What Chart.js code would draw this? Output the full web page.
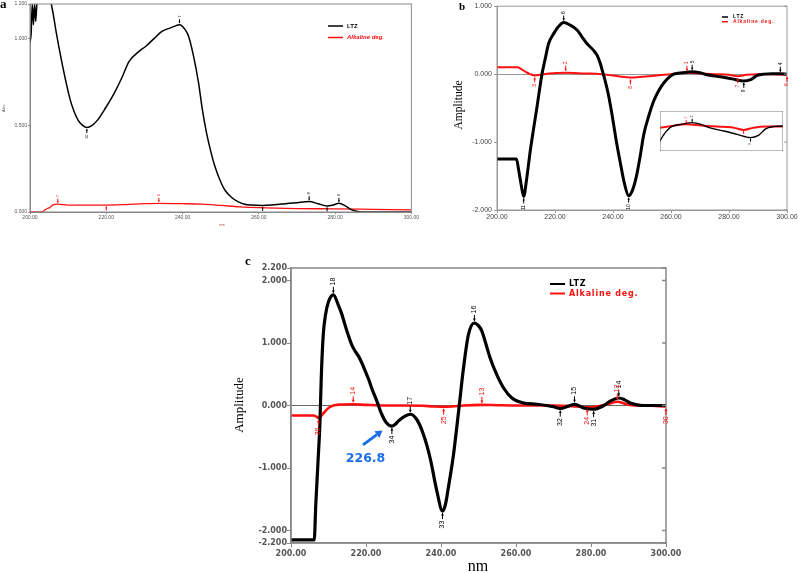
<!DOCTYPE html>
<html>
<head>
<meta charset="utf-8">
<script src="https://cdn.jsdelivr.net/npm/chart.js@4.4.1/dist/chart.umd.min.js"></script>
<style>
  html, body { margin: 0; padding: 0; background: #fff; }
  body { width: 798px; height: 573px; position: relative; overflow: hidden; }
  canvas { position: absolute; }
  #chartA { left: 0; top: 0; }
  #chartB { left: 420px; top: 0; }
  #inset { left: 660px; top: 111px; background: #fff; }
  #chartC { left: 210px; top: 240px; }
</style>
</head>
<body>
<canvas id="chartA" width="420" height="228"></canvas>
<canvas id="chartB" width="378" height="228"></canvas>
<canvas id="inset" width="123" height="40"></canvas>
<canvas id="chartC" width="500" height="333"></canvas>
<script>
// ---- tick labels ----
const xTicks = [200, 220, 240, 260, 280, 300];
const yTicksA = [0, 0.5, 1.0, 1.2];
const yTicksB = [-2, -1, 0, 1];
const yTicksC = [-2.2, -2, -1, 0, 1, 2, 2.2];

// ---- panel a: zero order spectra (Abs.) ----
const nmLtzA = [200, 200.3, 200.6, 200.9, 201.2, 201.5, 201.8, 202.3, 203.5, 205, 205.6, 206.05, 206.9, 208.2, 209.5, 210.8,
  212.6, 213.8, 214.9, 216.3, 217.7, 219.8, 222.1, 224, 226, 228.6, 230.3, 232.5, 234.6, 236.8, 238.3, 239.2, 240.7,
  241.6, 242.9, 244.2, 245.2, 246.3, 247.4, 248.5, 249.8, 251.1, 252.8, 254.5, 256.3, 258, 261, 264, 267, 270, 273.2,
  275.5, 277.9, 279.5, 281, 282.7, 284.4, 286, 287.5, 290, 295, 300];
const absLtzA = [0.98, 1.03, 1.2, 1.08, 1.2, 1.1, 1.2, 1.25, 1.4, 1.35, 1.2, 1.148, 1.033, 0.88, 0.744, 0.628,
  0.53, 0.5, 0.487, 0.5, 0.53, 0.6, 0.686, 0.77, 0.869, 0.927, 0.955, 1.0, 1.042, 1.062, 1.075, 1.081, 1.052,
  1.013, 0.898, 0.745, 0.59, 0.455, 0.35, 0.262, 0.185, 0.127, 0.085, 0.06, 0.045, 0.04, 0.038, 0.042, 0.048, 0.054, 0.06,
  0.048, 0.035, 0.04, 0.05, 0.035, 0.012, 0.003, 0, 0, 0, 0];
const nmAlkA = [200, 203, 203.8, 204.5, 205.2, 205.9, 207.3, 210, 215, 220, 225, 230, 233.8, 240, 245, 250, 255, 260, 270, 280, 290, 300];
const absAlkA = [0, 0, 0.01, 0.02, 0.025, 0.04, 0.045, 0.04, 0.04, 0.04, 0.043, 0.048, 0.05, 0.048, 0.045, 0.038, 0.03, 0.025, 0.02, 0.018, 0.015, 0.012];
const peaksLtzA = [[214.9, '10', 'min'], [239.2, '7', 'max'], [261, '', 'min'], [273.2, '8', 'max'], [277.9, '', 'min'], [281, '9', 'max']];
const peaksAlkA = [[207.3, '7', 'max'], [220, '', 'min'], [233.8, '6', 'max']];

// ---- panel b: derivative spectra ----
const nmLtzB = [200, 206.7, 207.5, 208.3, 209.2, 210.2, 211.5, 212.7, 213.8, 214.7, 215.5, 216.6, 217.8, 219.6, 221.2, 223,
  225.3, 227.6, 229.3, 231, 233.3, 234.5, 235.6, 236.4, 237.3, 238.4, 239.6, 241, 242.5, 244, 245.4, 246.8, 248.2, 249.4,
  250.6, 252.3, 254, 255.8, 257.5, 259.2, 261, 264, 267.3, 270, 272.5, 277, 281, 285.1, 287.5, 289.7, 292, 295, 297.7, 300];
const ampLtzB = [-1.25, -1.25, -1.42, -1.62, -1.8, -1.55, -1.12, -0.78, -0.48, -0.22, 0, 0.22, 0.45, 0.6, 0.7, 0.76,
  0.72, 0.65, 0.55, 0.45, 0.35, 0.28, 0.16, 0.04, -0.1, -0.3, -0.58, -0.95, -1.3, -1.62, -1.79, -1.7, -1.48, -1.2,
  -0.89, -0.62, -0.4, -0.24, -0.13, -0.05, 0, 0.02, 0.035, 0.02, -0.01, -0.04, -0.07, -0.1, -0.08, -0.02, 0, 0.005, 0.005, 0];
const nmAlkB = [200, 207, 208.5, 210, 211.5, 213, 215, 218, 223.7, 230, 236, 240, 243, 246, 250, 255, 260, 265.5, 270, 275, 280, 283, 286, 290, 295, 300];
const ampAlkB = [0.1, 0.1, 0.07, 0.03, 0, -0.02, -0.01, 0.01, 0.02, 0.01, 0, -0.02, -0.04, -0.05, -0.04, -0.02, 0, 0.02, 0.01, 0, -0.01, -0.03, -0.01, 0, 0, -0.01];
const peaksLtzB = [[209.2, '11', 'min'], [223, '6', 'max'], [245.4, '10', 'min'], [267.3, '5', 'max'], [285.1, '9', 'min'], [297.7, '4', 'max']];
const peaksAlkB = [[213, '3', 'min'], [223.7, '2', 'max'], [246, '8', 'min'], [265.5, '1', 'max'], [283, '7', 'min'], [300, '6', 'min']];

// ---- panel c: derivative spectra ----
const nmLtzC = [200, 206.2, 206.6, 207.2, 207.7, 208.1, 208.6, 209.2, 210, 211.3, 212.6, 213.5, 214.4, 215.3, 216.2, 217.1,
  218, 218.9, 219.8, 220.7, 221.5, 222.9, 224.2, 225.5, 226.9, 227.8, 228.6, 230.4, 231.8, 233.5, 235.3, 237.1, 238.9,
  240.4, 241.2, 242, 243.3, 244.7, 246, 247.3, 248.9, 250.1, 250.9, 252, 253.1, 254.9, 256.7, 258.9, 262, 265.6, 268.2,
  270, 271.8, 274, 275.6, 278, 280.7, 282, 283.4, 285.1, 287.4, 289, 290.5, 292, 294, 297, 300];
const ampLtzC = [-2.15, -2.15, -1.6, -0.9, -0.3, 0.5, 1.13, 1.45, 1.66, 1.77, 1.61, 1.47, 1.29, 1.12, 0.97, 0.87,
  0.79, 0.68, 0.55, 0.42, 0.28, 0.07, -0.14, -0.28, -0.33, -0.3, -0.25, -0.17, -0.14, -0.22, -0.46, -0.84, -1.37,
  -1.69, -1.58, -1.3, -0.8, -0.09, 0.6, 1.13, 1.32, 1.27, 1.19, 0.98, 0.76, 0.49, 0.28, 0.12, 0.04, 0.02, 0,
  -0.02, -0.05, -0.01, 0.02, -0.04, -0.06, -0.04, 0, 0.07, 0.12, 0.09, 0.04, 0.015, 0, 0, 0];
const nmAlkC = [200, 206, 206.8, 207.3, 208, 209, 210, 211.3, 213, 216.6, 220, 225, 230, 235, 238, 240.7, 243, 246, 250.9,
  255, 260, 270, 275, 277, 279, 281, 283, 285, 287, 289, 291, 295, 300];
const ampAlkC = [-0.16, -0.16, -0.18, -0.2, -0.17, -0.1, -0.04, 0, 0.015, 0.02, 0.01, 0, 0, -0.005, -0.015, -0.02, -0.015, 0, 0.01,
  0.005, 0, 0, -0.01, -0.02, -0.03, -0.02, 0, 0.03, 0.06, 0.03, 0.005, 0, -0.02];
const peaksLtzC = [[211.3, '18', 'max'], [226.9, '34', 'min'], [231.8, '17', 'max'], [240.4, '33', 'min'], [248.9, '16', 'max'],
  [271.8, '32', 'min'], [275.6, '15', 'max'], [280.7, '31', 'min'], [287.4, '14', 'max']];
const peaksAlkC = [[207.3, '36', 'min'], [216.6, '14', 'max'], [240.7, '25', 'min'], [250.9, '13', 'max'], [279, '24', 'min'], [287, '12', 'max'], [300, '30', 'min']];
const calloutNm = 226.8;
const calloutText = '226.8';

const RED = '#ff1010';

function pts(xs, ys) { return xs.map((x, i) => ({ x: x, y: ys[i] })); }

function valueAt(data, nm) {
  for (let i = 0; i < data.length - 1; i++) {
    if (nm >= data[i].x && nm <= data[i + 1].x) {
      const t = (nm - data[i].x) / (data[i + 1].x - data[i].x);
      return data[i].y + t * (data[i + 1].y - data[i].y);
    }
  }
  return data[data.length - 1].y;
}

// frame, peak markers, texts, legend, callout
const decor = {
  id: 'decor',
  afterDraw(chart, args, o) {
    const ctx = chart.ctx, a = chart.chartArea;
    const sx = chart.scales.x, sy = chart.scales.y;
    ctx.save();
    if (o.frame) {
      ctx.strokeStyle = o.frame;
      ctx.lineWidth = o.frameWidth || 1;
      ctx.strokeRect(a.left, a.top, a.right - a.left, a.bottom - a.top);
    }
    if (o.rightTicks) {
      ctx.beginPath();
      sy.ticks.forEach(t => {
        const py = sy.getPixelForValue(t.value);
        ctx.moveTo(a.right, py);
        ctx.lineTo(a.right - o.rightTicks, py);
      });
      ctx.stroke();
    }
    (o.markers || []).forEach(set => {
      const ds = chart.data.datasets[set.ds];
      const col = ds.borderColor;
      set.peaks.forEach(([nm, lab, kind]) => {
        if (nm < sx.min || nm > sx.max) return;
        const px = sx.getPixelForValue(nm);
        const py = sy.getPixelForValue(valueAt(ds.data, nm));
        const d = kind === 'max' ? -1 : 1;
        const y0 = py + d * o.gap, y1 = y0 + d * o.len;
        ctx.strokeStyle = col; ctx.fillStyle = col; ctx.lineWidth = o.markWidth || 1;
        ctx.beginPath(); ctx.moveTo(px, y0); ctx.lineTo(px, y1); ctx.stroke();
        ctx.beginPath();
        ctx.moveTo(px, y0);
        ctx.lineTo(px - o.head, y0 + d * o.head * 1.6);
        ctx.lineTo(px + o.head, y0 + d * o.head * 1.6);
        ctx.closePath(); ctx.fill();
        if (lab) {
          ctx.save();
          ctx.translate(px, y1 + d * 1.5);
          ctx.rotate(-Math.PI / 2);
          ctx.font = o.font;
          ctx.textBaseline = 'middle';
          ctx.textAlign = d < 0 ? 'left' : 'right';
          ctx.fillText(lab, 0, 0);
          ctx.restore();
        }
      });
    });
    (o.texts || []).forEach(t => {
      ctx.save();
      ctx.translate(t.x, t.y);
      if (t.rot) ctx.rotate(t.rot);
      ctx.font = t.font;
      ctx.fillStyle = t.color || '#000';
      ctx.textAlign = t.align || 'center';
      ctx.textBaseline = t.base || 'middle';
      ctx.fillText(t.text, 0, 0);
      ctx.restore();
    });
    if (o.legend) {
      const L = o.legend;
      chart.data.datasets.forEach((ds, i) => {
        const y = L.y + i * L.dy;
        ctx.strokeStyle = ds.borderColor; ctx.lineWidth = L.lineWidth;
        ctx.beginPath(); ctx.moveTo(L.x, y); ctx.lineTo(L.x + L.len, y); ctx.stroke();
        ctx.font = L.fonts[i];
        ctx.letterSpacing = L.spacing || '0px';
        ctx.fillStyle = ds.borderColor;
        ctx.textAlign = 'left'; ctx.textBaseline = 'middle';
        ctx.fillText(ds.label, L.x + L.len + L.gap, y);
      });
      ctx.letterSpacing = '0px';
    }
    if (o.callout) {
      const c = o.callout;
      const ds = chart.data.datasets[c.ds];
      const px = sx.getPixelForValue(c.nm), py = sy.getPixelForValue(valueAt(ds.data, c.nm));
      const tx = px + c.tip[0], ty = py + c.tip[1], bx = px + c.tail[0], by = py + c.tail[1];
      const ang = Math.atan2(ty - by, tx - bx);
      const hx = tx - c.head * Math.cos(ang), hy = ty - c.head * Math.sin(ang);
      ctx.strokeStyle = c.color; ctx.fillStyle = c.color; ctx.lineWidth = c.width;
      ctx.beginPath(); ctx.moveTo(bx, by); ctx.lineTo(hx, hy); ctx.stroke();
      const w = c.head * 0.6;
      ctx.beginPath();
      ctx.moveTo(tx, ty);
      ctx.lineTo(hx + w * Math.sin(ang), hy - w * Math.cos(ang));
      ctx.lineTo(hx - w * Math.sin(ang), hy + w * Math.cos(ang));
      ctx.closePath(); ctx.fill();
      ctx.font = c.font; ctx.textAlign = 'center'; ctx.textBaseline = 'middle';
      ctx.fillText(c.text, px + c.textAt[0], py + c.textAt[1]);
    }
    ctx.restore();
  }
};
Chart.register(decor);
Chart.defaults.font.family = 'Liberation Sans';

function axes(o) {
  return {
    x: {
      type: 'linear', min: o.xMin || 200, max: o.xMax || 300, display: o.display !== false,
      afterBuildTicks: s => { s.ticks = xTicks.map(v => ({ value: v })); },
      afterFit: s => { s.height = o.xh; },
      ticks: { autoSkip: false, maxRotation: 0, font: o.xFont, color: o.tickColor, padding: o.xPad, callback: v => v.toFixed(2) },
      grid: { drawOnChartArea: false, tickLength: o.tickLen, color: o.frame, lineWidth: 1 },
      border: { color: o.frame, width: o.frameWidth }
    },
    y: {
      type: 'linear', min: o.yMin, max: o.yMax, display: o.display !== false,
      afterBuildTicks: s => { s.ticks = o.yTicks.map(v => ({ value: v })); },
      afterFit: s => { s.width = o.yw; },
      ticks: { autoSkip: false, font: o.yFont, color: o.tickColor, padding: o.yPad, callback: v => v.toFixed(3) },
      grid: {
        drawOnChartArea: !!o.zero, tickLength: o.tickLen, tickColor: o.frame,
        color: c => (o.zero && c.tick && c.tick.value === 0) ? o.zero : 'rgba(0,0,0,0)'
      },
      border: { color: o.frame, width: o.frameWidth }
    }
  };
}

const common = {
  responsive: false, animation: false, devicePixelRatio: 1,
  elements: { point: { radius: 0 }, line: { cubicInterpolationMode: 'monotone', fill: false } },
  events: []
};

// ---------- panel a ----------
new Chart(document.getElementById('chartA'), {
  type: 'line',
  data: { datasets: [
    { label: 'LTZ', data: pts(nmLtzA, absLtzA), borderColor: '#000', borderWidth: 1.5 },
    { label: 'Alkaline deg.', data: pts(nmAlkA, absAlkA), borderColor: RED, borderWidth: 1.3 }
  ] },
  options: Object.assign({}, common, {
    layout: { padding: { top: 4, right: 5, left: 0, bottom: 0 } },
    scales: axes({ xh: 16, yw: 30, yMin: 0, yMax: 1.2, yTicks: yTicksA, tickLen: 2, xPad: 1, yPad: 1,
      xFont: { size: 5 }, yFont: { size: 5 }, tickColor: '#555', frame: '#888', frameWidth: 1 }),
    plugins: {
      legend: { display: false }, tooltip: { enabled: false },
      decor: {
        frame: '#888', frameWidth: 1, gap: 1.5, len: 4, head: 1, font: '4px Liberation Sans',
        markers: [{ ds: 0, peaks: peaksLtzA }, { ds: 1, peaks: peaksAlkA }],
        texts: [
          { text: 'a', x: 0, y: 8, font: 'bold 13px Liberation Serif', align: 'left', base: 'alphabetic' },
          { text: 'Abs.', x: 4, y: 108, rot: -Math.PI / 2, font: '4px Liberation Sans', color: '#555' },
          { text: 'nm', x: 222, y: 225, font: '4px Liberation Sans', color: '#b44' }
        ],
        legend: { x: 328, y: 26, dy: 11.5, len: 15, gap: 4, lineWidth: 1.5,
          fonts: ['bold 6px Liberation Sans', 'bold italic 6px Liberation Sans'] }
      }
    }
  })
});

// ---------- panel b ----------
const dsLtzB = pts(nmLtzB, ampLtzB);
const dsAlkB = pts(nmAlkB, ampAlkB);
new Chart(document.getElementById('chartB'), {
  type: 'line',
  data: { datasets: [
    { label: 'LTZ', data: dsLtzB, borderColor: '#000', borderWidth: 3 },
    { label: 'Alkaline deg.', data: dsAlkB, borderColor: RED, borderWidth: 2 }
  ] },
  options: Object.assign({}, common, {
    layout: { padding: { top: 6, right: 11, left: 0, bottom: 0 } },
    scales: axes({ xh: 18, yw: 77, yMin: -2, yMax: 1, yTicks: yTicksB, tickLen: 3, xPad: 0, yPad: 2,
      xFont: { size: 7 }, yFont: { size: 7 }, tickColor: '#444', frame: '#999', frameWidth: 1, zero: '#999' }),
    plugins: {
      legend: { display: false }, tooltip: { enabled: false },
      decor: {
        frame: '#999', frameWidth: 1, rightTicks: 3, gap: 2, len: 5, head: 1.3, font: '5px Liberation Sans',
        markers: [{ ds: 0, peaks: peaksLtzB }, { ds: 1, peaks: peaksAlkB }],
        texts: [
          { text: 'b', x: 39, y: 10, font: 'bold 11px Liberation Serif', align: 'left', base: 'alphabetic' },
          { text: 'Amplitude', x: 39, y: 105, rot: -Math.PI / 2, font: '11.5px Liberation Serif' }
        ],
        legend: { x: 302, y: 17, dy: 4.7, len: 6, gap: 5, lineWidth: 1.5, spacing: '0.8px',
          fonts: ['bold 5px Liberation Sans', 'bold 5px Liberation Sans'] }
      }
    }
  })
});

// ---------- inset of panel b (magnified 257-295 nm) ----------
new Chart(document.getElementById('inset'), {
  type: 'line',
  data: { datasets: [
    { label: 'LTZ', data: dsLtzB, borderColor: '#000', borderWidth: 1.4 },
    { label: 'Alkaline deg.', data: dsAlkB, borderColor: RED, borderWidth: 2 }
  ] },
  options: Object.assign({}, common, {
    layout: { padding: 0 },
    scales: axes({ display: false, xMin: 257.5, xMax: 295, yMin: -0.22, yMax: 0.14, yTicks: [], xh: 0, yw: 0, tickLen: 0 }),
    plugins: {
      legend: { display: false }, tooltip: { enabled: false },
      decor: {
        frame: '#777', frameWidth: 1, gap: 1, len: 3, head: 0.8, font: '3px Liberation Sans',
        markers: [{ ds: 0, peaks: peaksLtzB }, { ds: 1, peaks: peaksAlkB }]
      }
    }
  })
});

// ---------- panel c ----------
new Chart(document.getElementById('chartC'), {
  type: 'line',
  data: { datasets: [
    { label: 'LTZ', data: pts(nmLtzC, ampLtzC), borderColor: '#000', borderWidth: 3.2 },
    { label: 'Alkaline deg.', data: pts(nmAlkC, ampAlkC), borderColor: RED, borderWidth: 2.6 }
  ] },
  options: Object.assign({}, common, {
    layout: { padding: { top: 28, right: 44, left: 0, bottom: 0 } },
    scales: axes({ xh: 30, yw: 81, yMin: -2.2, yMax: 2.2, yTicks: yTicksC, tickLen: 4, xPad: 2, yPad: 0,
      xFont: { size: 8, weight: 'bold', family: 'DejaVu Sans' }, yFont: { size: 8, weight: 'bold', family: 'DejaVu Sans' },
      tickColor: '#555', frame: '#888', frameWidth: 1.5, zero: '#666' }),
    plugins: {
      legend: { display: false }, tooltip: { enabled: false },
      decor: {
        frame: '#888', frameWidth: 1.5, rightTicks: 4, gap: 2, len: 6, head: 1.5, font: '7px Liberation Sans',
        markers: [{ ds: 0, peaks: peaksLtzC }, { ds: 1, peaks: peaksAlkC }],
        texts: [
          { text: 'c', x: 35, y: 25, font: 'bold 13px Liberation Serif', align: 'left', base: 'alphabetic' },
          { text: 'Amplitude', x: 30, y: 165, rot: -Math.PI / 2, font: '13px Liberation Serif' },
          { text: 'nm', x: 268, y: 327, font: '16px Liberation Serif' }
        ],
        legend: { x: 340, y: 44, dy: 9.5, len: 15, gap: 4, lineWidth: 2, spacing: '0.8px',
          fonts: ['bold 8px DejaVu Sans', 'bold 8px DejaVu Sans'] },
        callout: { ds: 0, nm: calloutNm, text: calloutText, color: '#1a6fe6', width: 3, head: 7,
          tip: [-9, 4.5], tail: [-28.5, 19], textAt: [-26, 33], font: 'bold 12.5px DejaVu Sans' }
      }
    }
  })
});
</script>
</body>
</html>
